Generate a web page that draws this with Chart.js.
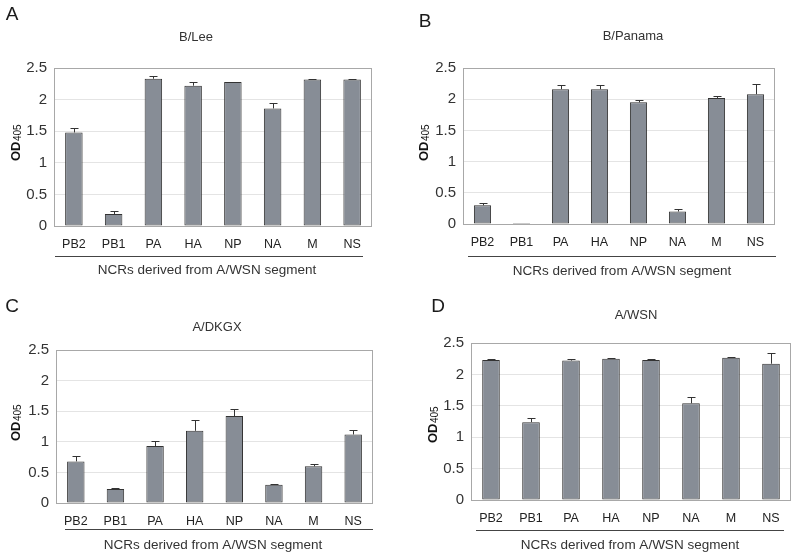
<!DOCTYPE html>
<html>
<head>
<meta charset="utf-8">
<script src="https://cdn.jsdelivr.net/npm/chart.js@4/dist/chart.umd.min.js"></script>
<style>
  html, body { margin: 0; padding: 0; background: #ffffff; }
  body { width: 800px; height: 556px; position: relative; overflow: hidden; }
  .panel { position: absolute; }
</style>
</head>
<body>
<div class="panel" style="left:0px;top:0px;"><canvas id="cA" width="400" height="278"></canvas></div>
<div class="panel" style="left:400px;top:0px;"><canvas id="cB" width="400" height="278"></canvas></div>
<div class="panel" style="left:0px;top:278px;"><canvas id="cC" width="400" height="278"></canvas></div>
<div class="panel" style="left:400px;top:278px;"><canvas id="cD" width="400" height="278"></canvas></div>
<script>
// ---------- data ----------
const categories = ['PB2', 'PB1', 'PA', 'HA', 'NP', 'NA', 'M', 'NS'];
const yTickValues = [0, 0.5, 1, 1.5, 2, 2.5];
const yTickLabels = ['0', '0.5', '1', '1.5', '2', '2.5'];

const titleA = 'B/Lee';
const valuesA = [1.48, 0.19, 2.33, 2.22, 2.28, 1.86, 2.32, 2.32];
const errorsA = [0.07, 0.04, 0.05, 0.06, 0.00, 0.09, 0.01, 0.01];

const titleB = 'B/Panama';
const valuesB = [0.30, 0.015, 2.16, 2.16, 1.95, 0.20, 2.02, 2.08];
const errorsB = [0.04, 0.00, 0.06, 0.07, 0.04, 0.04, 0.03, 0.16];

const titleC = 'A/DKGX';
const valuesC = [0.68, 0.23, 0.93, 1.18, 1.42, 0.30, 0.60, 1.12];
const errorsC = [0.08, 0.02, 0.09, 0.17, 0.11, 0.01, 0.04, 0.07];

const titleD = 'A/WSN';
const valuesD = [2.23, 1.24, 2.22, 2.25, 2.23, 1.54, 2.265, 2.17];
const errorsD = [0.01, 0.07, 0.02, 0.01, 0.02, 0.10, 0.01, 0.17];

const panelLetters = ['A', 'B', 'C', 'D'];
const xAxisTitle = 'NCRs derived from A/WSN segment';
const yAxisMain = 'OD';
const yAxisSub = '405';

// ---------- layout (page pixel positions) ----------
const W = 400, H = 278;
const layouts = [
  { ox: 0,   oy: 0,   plot: [54, 68, 372, 226],  title: [196, 37],  letter: [12, 15],  od: [15, 143],  line: [55, 363, 256.5], xt: [207, 270] },
  { ox: 400, oy: 0,   plot: [463, 68, 775, 224], title: [633, 36],  letter: [425, 22], od: [423, 143], line: [468, 776, 256],  xt: [622, 271] },
  { ox: 0,   oy: 278, plot: [56, 350, 373, 503], title: [217, 327], letter: [12, 307], od: [15, 423],  line: [65, 373, 529.5], xt: [213, 545] },
  { ox: 400, oy: 278, plot: [471, 343, 791, 500],title: [636, 315], letter: [438, 307],od: [432, 425], line: [476, 784, 530.5],xt: [630, 545] }
];

const FONT = '"Liberation Sans", Arial, sans-serif';

const decorPlugin = {
  id: 'decor',
  beforeDatasetsDraw(chart) {
    const a = chart.chartArea, ctx = chart.ctx;
    ctx.save();
    ctx.strokeStyle = '#a8a8a8';
    ctx.lineWidth = 1;
    ctx.strokeRect(Math.round(a.left) + 0.5, Math.round(a.top) + 0.5,
                   Math.round(a.right - a.left) - 1, Math.round(a.bottom - a.top));
    ctx.restore();
  },
  afterDatasetsDraw(chart) {
    const ctx = chart.ctx;
    const errs = chart.options.plugins.decor.errors;
    const vals = chart.data.datasets[0].data;
    const meta = chart.getDatasetMeta(0);
    const ys = chart.scales.y;
    ctx.save();
    ctx.strokeStyle = '#333333';
    ctx.lineWidth = 1;
    meta.data.forEach((bar, i) => {
      if (!errs[i]) return;
      const x = Math.round(bar.x) + 0.5;
      const y0 = ys.getPixelForValue(vals[i]);
      const y1 = Math.round(ys.getPixelForValue(vals[i] + errs[i])) + 0.5;
      ctx.beginPath();
      ctx.moveTo(x, y0);
      ctx.lineTo(x, y1);
      ctx.moveTo(x - 4, y1);
      ctx.lineTo(x + 4, y1);
      ctx.stroke();
    });
    ctx.restore();
  },
  afterDraw(chart) {
    const o = chart.options.plugins.decor;
    const L = o.layout, ctx = chart.ctx;
    const lx = (v) => v - L.ox, ly = (v) => v - L.oy;
    ctx.save();
    ctx.fillStyle = '#1a1a1a';
    ctx.font = '19px ' + FONT;
    ctx.textAlign = 'center';
    ctx.textBaseline = 'middle';
    ctx.fillText(o.letter, lx(L.letter[0]), ly(L.letter[1]));
    ctx.fillStyle = '#333333';
    ctx.font = '13px ' + FONT;
    ctx.fillText(o.title, lx(L.title[0]), ly(L.title[1]));
    ctx.strokeStyle = '#444444';
    ctx.lineWidth = 1;
    ctx.beginPath();
    ctx.moveTo(lx(L.line[0]), Math.floor(ly(L.line[2])) + 0.5);
    ctx.lineTo(lx(L.line[1]), Math.floor(ly(L.line[2])) + 0.5);
    ctx.stroke();
    ctx.font = '13.5px ' + FONT;
    ctx.fillText(o.xTitle, lx(L.xt[0]), ly(L.xt[1]));
    ctx.translate(lx(L.od[0]), ly(L.od[1]));
    ctx.rotate(-Math.PI / 2);
    ctx.fillStyle = '#111111';
    ctx.font = 'bold 13px ' + FONT;
    const w1 = ctx.measureText(o.yMain).width;
    ctx.font = '10px ' + FONT;
    const w2 = ctx.measureText(o.ySub).width;
    const start = -(w1 + w2) / 2;
    ctx.textAlign = 'left';
    ctx.textBaseline = 'alphabetic';
    ctx.font = 'bold 13px ' + FONT;
    ctx.fillText(o.yMain, start, 5);
    ctx.font = '10px ' + FONT;
    ctx.fillText(o.ySub, start + w1 + 0.5, 6);
    ctx.restore();
  }
};

function makeChart(id, idx, title, values, errors) {
  const L = layouts[idx];
  const left = L.plot[0] - L.ox, top = L.plot[1] - L.oy;
  const right = L.plot[2] - L.ox, bottom = L.plot[3] - L.oy;
  return new Chart(document.getElementById(id), {
    type: 'bar',
    data: {
      labels: categories,
      datasets: [{
        data: values,
        backgroundColor: '#878d96',
        borderColor: '#333333',
        borderWidth: 1,
        borderSkipped: false,
        categoryPercentage: 1.0,
        barPercentage: 0.44
      }]
    },
    options: {
      responsive: false,
      animation: false,
      devicePixelRatio: 1,
      layout: { padding: { left: 0, top: top, right: W - right, bottom: 0 } },
      plugins: {
        legend: { display: false },
        tooltip: { enabled: false },
        decor: {
          layout: L, letter: panelLetters[idx], title: title, errors: errors,
          xTitle: xAxisTitle, yMain: yAxisMain, ySub: yAxisSub
        }
      },
      scales: {
        x: {
          grid: { display: false, drawTicks: false },
          border: { display: false },
          ticks: { color: '#222222', font: { family: FONT, size: 12.5 }, padding: 11, maxRotation: 0, autoSkip: false },
          afterFit(s) { s.height = H - bottom; }
        },
        y: {
          min: 0, max: 2.5,
          grid: { color: '#e4e4e4', drawTicks: false, lineWidth: 1 },
          border: { display: false },
          afterBuildTicks(s) { s.ticks = yTickValues.map(v => ({ value: v })); },
          ticks: {
            color: '#333333', font: { family: FONT, size: 15 }, padding: 7,
            callback: (v) => { const i = yTickValues.indexOf(v); return i >= 0 ? yTickLabels[i] : ''; }
          },
          afterFit(s) { s.width = left; }
        }
      }
    },
    plugins: [decorPlugin]
  });
}

makeChart('cA', 0, titleA, valuesA, errorsA);
makeChart('cB', 1, titleB, valuesB, errorsB);
makeChart('cC', 2, titleC, valuesC, errorsC);
makeChart('cD', 3, titleD, valuesD, errorsD);
</script>
</body>
</html>
